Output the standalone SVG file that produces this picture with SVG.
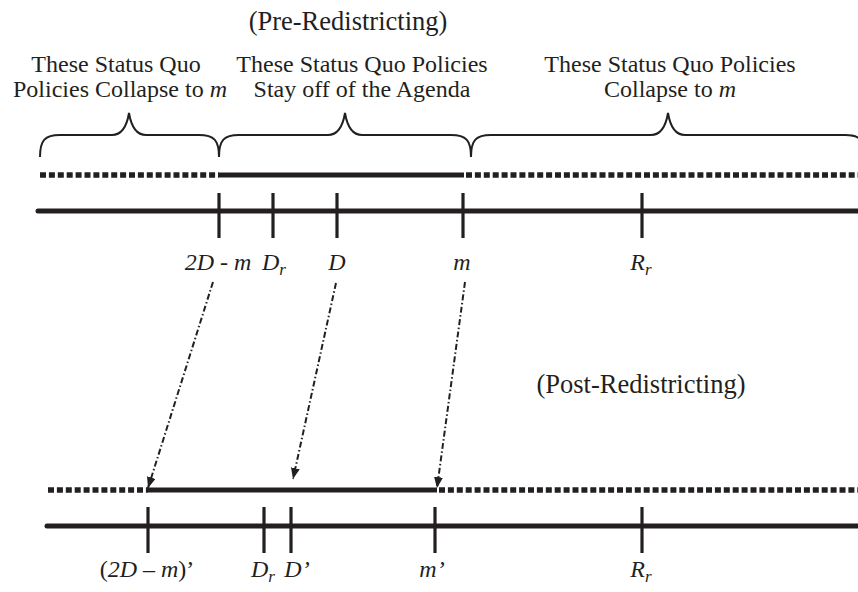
<svg xmlns="http://www.w3.org/2000/svg" width="858" height="592" viewBox="0 0 858 592">
<style>
  text { font-family: "Liberation Serif", "Times New Roman", serif; fill: #231f20; }
  .title { font-size: 26.5px; }
  .lbl { font-size: 24px; }
  .it { font-size: 24px; font-style: italic; }
  .sub { font-size: 17px; }
  .brace { fill: none; stroke: #231f20; stroke-width: 2; }
  .dot { stroke: #231f20; stroke-width: 5.5; stroke-dasharray: 6 2.9; fill: none; }
  .solid { stroke: #231f20; stroke-width: 5; fill: none; }
  .axis { stroke: #231f20; stroke-width: 5; stroke-linecap: round; fill: none; }
  .tick { stroke: #231f20; stroke-width: 3.2; }
  .arr { stroke: #231f20; stroke-width: 2; stroke-dasharray: 6 2.5 1.5 2.5; fill: none; }
</style>
<defs>
  <marker id="ah" markerUnits="userSpaceOnUse" markerWidth="12" markerHeight="10" refX="11" refY="4.5" orient="auto">
    <path d="M0,0 L11,4.5 L0,9 z" fill="#231f20"/>
  </marker>
</defs>

<g id="titles">
  <text class="title" x="348" y="30" text-anchor="middle">(Pre-Redistricting)</text>
  <text class="title" x="641" y="393" text-anchor="middle">(Post-Redistricting)</text>
</g>

<g id="region-left">
  <text class="lbl" x="116" y="72" text-anchor="middle">These Status Quo</text>
  <text class="lbl" x="120" y="97" text-anchor="middle">Policies Collapse to <tspan font-style="italic">m</tspan></text>
  <path class="brace" d="M40,157 C40,140 45,135 60,135 L112,135 C122,135 127,125 129,113 C131,125 136,135 146,135 L199,135 C214,135 219,140 219,157"/>
</g>

<g id="region-middle">
  <text class="lbl" x="362" y="72" text-anchor="middle">These Status Quo Policies</text>
  <text class="lbl" x="362" y="97" text-anchor="middle">Stay off of the Agenda</text>
  <path class="brace" d="M219,157 C219,140 224,135 239,135 L328,135 C338,135 343,125 345,113 C347,125 352,135 362,135 L451,135 C466,135 471,140 471,157"/>
</g>

<g id="region-right">
  <text class="lbl" x="670" y="72" text-anchor="middle">These Status Quo Policies</text>
  <text class="lbl" x="670" y="97" text-anchor="middle">Collapse to <tspan font-style="italic">m</tspan></text>
  <path class="brace" d="M471,157 C471,140 476,135 491,135 L651,135 C661,135 666,125 668,113 C670,125 675,135 685,135 L845,135 C860,135 865,140 865,157"/>
</g>

<g id="pre-line">
  <line class="dot" x1="40" y1="175" x2="219" y2="175"/>
  <line class="solid" x1="219" y1="175" x2="464" y2="175"/>
  <line class="dot" x1="466" y1="175" x2="860" y2="175"/>
  <line class="axis" x1="38" y1="211" x2="862" y2="211"/>
  <line class="tick" x1="219" y1="193" x2="219" y2="238"/>
  <line class="tick" x1="273" y1="193" x2="273" y2="238"/>
  <line class="tick" x1="337" y1="193" x2="337" y2="238"/>
  <line class="tick" x1="463" y1="193" x2="463" y2="238"/>
  <line class="tick" x1="642" y1="193" x2="642" y2="238"/>
</g>

<g id="pre-labels">
  <text class="it" x="218" y="270" text-anchor="middle">2D - m</text>
  <text class="it" x="274" y="270" text-anchor="middle">D<tspan class="sub" dy="5">r</tspan></text>
  <text class="it" x="337" y="270" text-anchor="middle">D</text>
  <text class="it" x="462" y="270" text-anchor="middle">m</text>
  <text class="it" x="641" y="270" text-anchor="middle">R<tspan class="sub" dy="5">r</tspan></text>
</g>

<g id="post-line">
  <line class="dot" x1="48" y1="490" x2="148" y2="490"/>
  <line class="solid" x1="148" y1="490" x2="437" y2="490"/>
  <line class="dot" x1="439" y1="490" x2="860" y2="490"/>
  <line class="axis" x1="47" y1="526" x2="862" y2="526"/>
  <line class="tick" x1="148" y1="507" x2="148" y2="553"/>
  <line class="tick" x1="264" y1="507" x2="264" y2="553"/>
  <line class="tick" x1="291" y1="507" x2="291" y2="553"/>
  <line class="tick" x1="435" y1="507" x2="435" y2="553"/>
  <line class="tick" x1="642" y1="507" x2="642" y2="553"/>
</g>

<g id="post-labels">
  <text class="lbl" x="147" y="577" text-anchor="middle">(<tspan font-style="italic">2D</tspan> – <tspan font-style="italic">m</tspan>)’</text>
  <text class="it" x="263" y="577" text-anchor="middle">D<tspan class="sub" dy="5">r</tspan></text>
  <text class="it" x="297" y="577" text-anchor="middle">D’</text>
  <text class="it" x="432" y="577" text-anchor="middle">m’</text>
  <text class="it" x="641" y="577" text-anchor="middle">R<tspan class="sub" dy="5">r</tspan></text>
</g>

<g id="connectors">
  <line class="arr" x1="213" y1="282" x2="148" y2="488" marker-end="url(#ah)"/>
  <line class="arr" x1="336" y1="283" x2="293" y2="479" marker-end="url(#ah)"/>
  <line class="arr" x1="465" y1="282" x2="437" y2="488" marker-end="url(#ah)"/>
</g>
</svg>
